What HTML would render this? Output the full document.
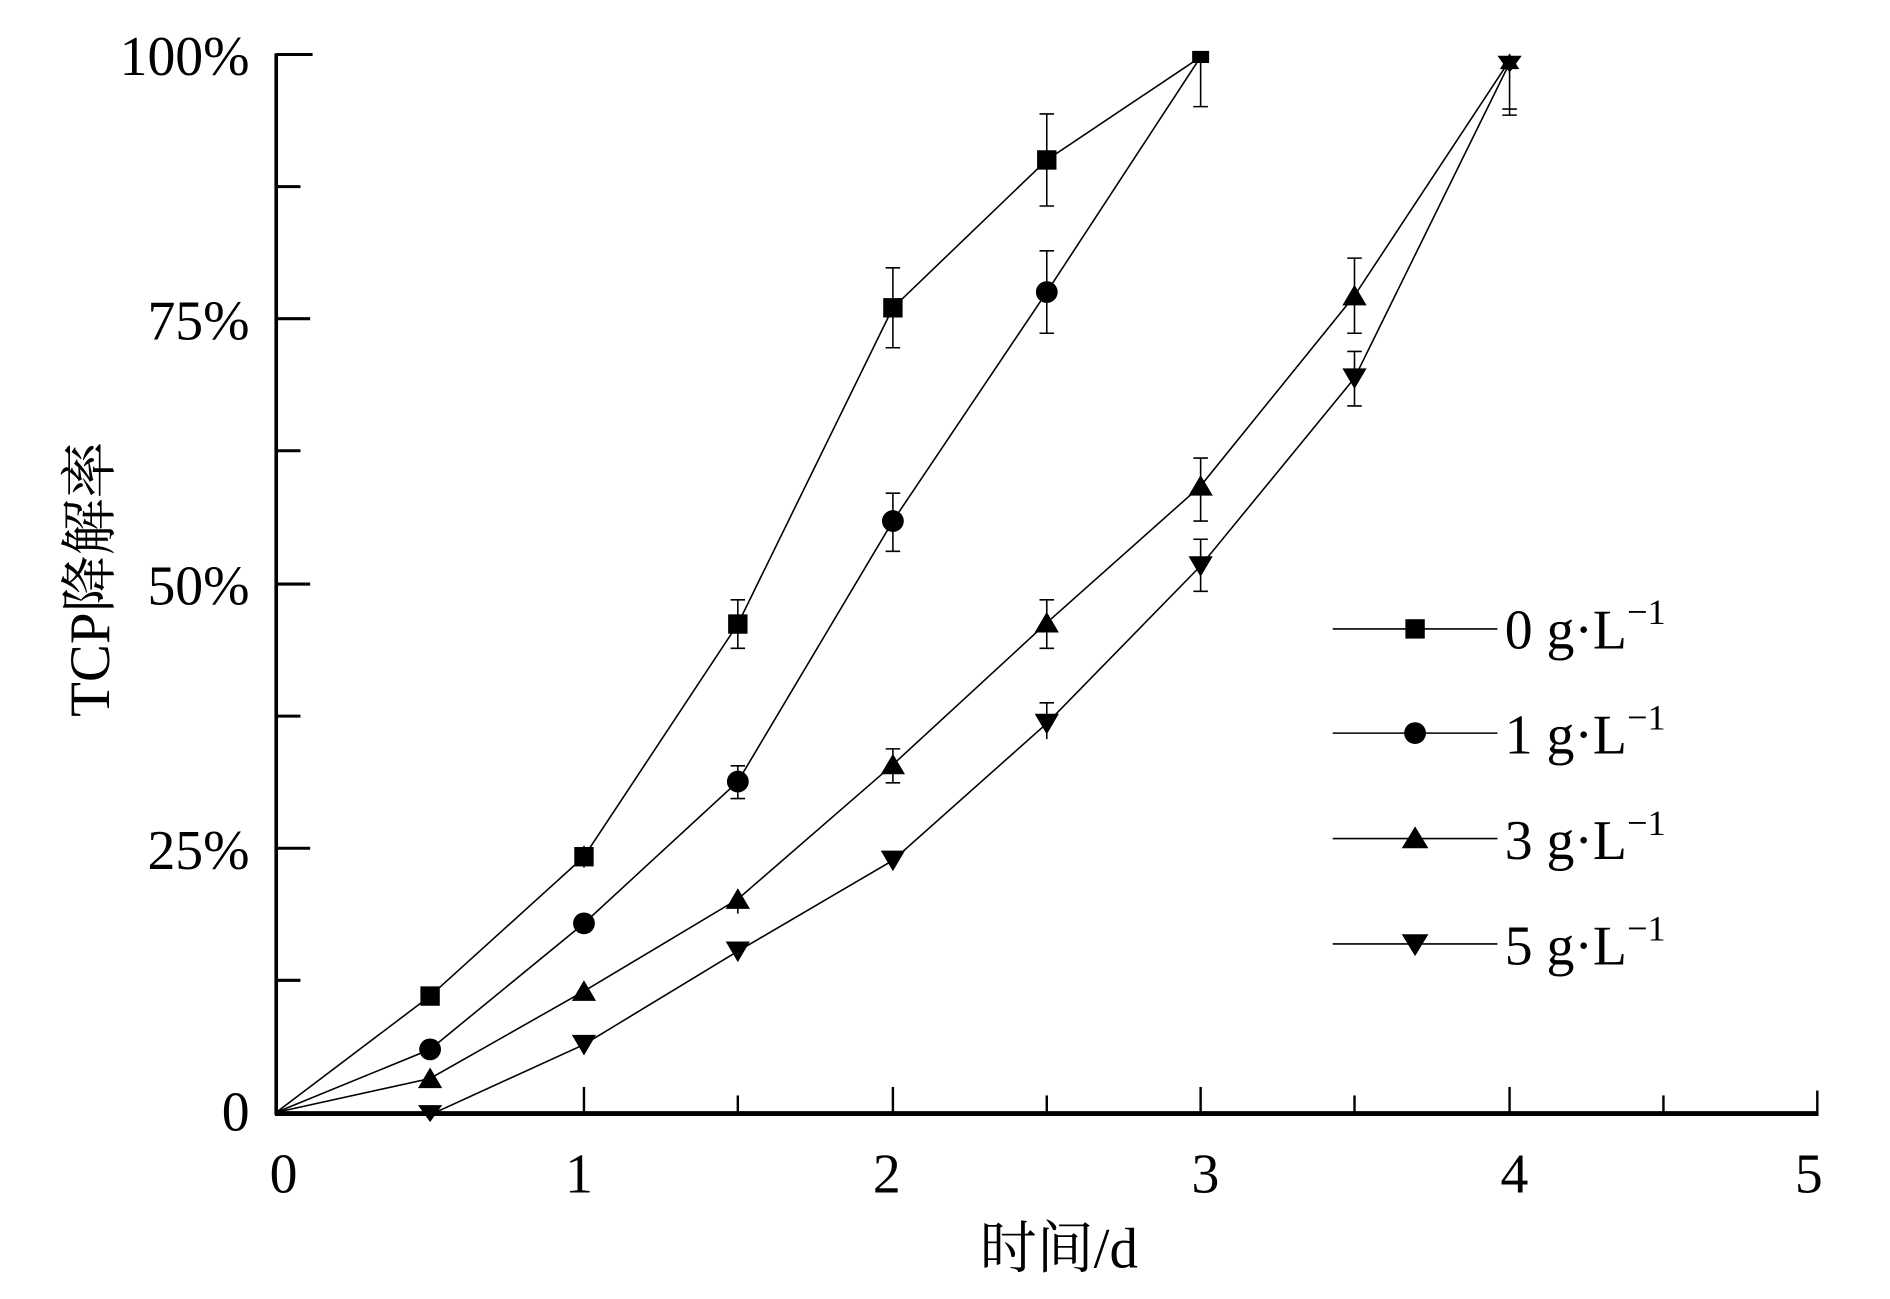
<!DOCTYPE html>
<html><head><meta charset="utf-8"><style>
html,body{margin:0;padding:0;background:#fff;}
svg{display:block;}
text{font-family:"Liberation Serif","Noto Serif CJK SC",serif;fill:#000;}
</style></head><body>
<svg width="1890" height="1299" viewBox="0 0 1560 1072" preserveAspectRatio="none" xmlns="http://www.w3.org/2000/svg">
<g stroke="#000" fill="none">
<line x1="228" y1="44" x2="228" y2="920" stroke-width="3"/>
<line x1="227" y1="919" x2="1501" y2="919" stroke-width="4"/>
<g stroke-width="2.5">
<line x1="228" y1="45" x2="258" y2="45"/><line x1="228" y1="154" x2="248" y2="154"/>
<line x1="228" y1="263" x2="256" y2="263"/><line x1="228" y1="372" x2="248" y2="372"/>
<line x1="228" y1="482" x2="256" y2="482"/><line x1="228" y1="591" x2="248" y2="591"/>
<line x1="228" y1="700" x2="256" y2="700"/><line x1="228" y1="809" x2="248" y2="809"/>
</g>
<g stroke-width="2">
<line x1="482" y1="919" x2="482" y2="897"/><line x1="609" y1="919" x2="609" y2="904"/>
<line x1="737" y1="919" x2="737" y2="897"/><line x1="864" y1="919" x2="864" y2="904"/>
<line x1="991" y1="919" x2="991" y2="897"/><line x1="1118" y1="919" x2="1118" y2="904"/>
<line x1="1246" y1="919" x2="1246" y2="897"/><line x1="1373" y1="919" x2="1373" y2="904"/>
<line x1="1500" y1="919" x2="1500" y2="900"/>
</g>
<g stroke-width="1.3">
<polyline points="228,918 355,822 482,707 609,515 737,254 864,132 991,47"/>
<polyline points="228,918 355,866 482,762 609,645 737,430 864,241 991,47"/>
<polyline points="228,918 355,890 482,818 609,742 737,631 864,514 991,401 1118,244 1246,50"/>
<polyline points="228,918 355,920 482,862 609,785 737,710 864,597 991,467 1118,312 1246,52"/>
<path d="M864,94V170M858,94H870M858,170H870 M737,221V287M731,221H743M731,287H743 M609,495V535M603,495H615M603,535H615 M482,698V716 M991,45V88M985,88H997
M864,207V275M858,207H870M858,275H870 M737,407V455M731,407H743M731,455H743 M609,632V659M603,632H615M603,659H615
M1118,213V275M1112,213H1124M1112,275H1124 M991,378V430M985,378H997M985,430H997 M864,495V535M858,495H870M858,535H870 M737,618V646M731,618H743M731,646H743 M609,734V754
M1118,290V335M1112,290H1124M1112,335H1124 M991,445V488M985,445H997M985,488H997 M864,580V610M858,580H870 M1246,45V95M1240,95H1252M1240,90H1252"/>
</g>
<g stroke-width="1.3">
<line x1="1100" y1="519" x2="1236" y2="519"/><line x1="1100" y1="605" x2="1236" y2="605"/>
<line x1="1100" y1="692" x2="1236" y2="692"/><line x1="1100" y1="779" x2="1236" y2="779"/>
</g>
</g>
<g fill="#000">
<rect x="347" y="814" width="16" height="16"/><rect x="474" y="699" width="16" height="16"/>
<rect x="601" y="507" width="16" height="16"/><rect x="729" y="246" width="16" height="16"/>
<rect x="856" y="124" width="16" height="16"/><rect x="984" y="42" width="14" height="10"/>
<rect x="1160" y="511" width="16" height="16"/>
<circle cx="355" cy="866" r="9"/><circle cx="482" cy="762" r="9"/><circle cx="609" cy="645" r="9"/>
<circle cx="737" cy="430" r="9"/><circle cx="864" cy="241" r="9"/><circle cx="1168" cy="605" r="9"/>
<path d="M355,881l10,17h-20z M482,809l10,17h-20z M609,733l10,17h-20z M737,622l10,17h-20z M864,505l10,17h-20z M991,392l10,17h-20z M1118,235l10,17h-20z M1246,44l8,13h-16z M1168,682l11,18h-22z"/>
<path d="M345,912h20l-10,14z M472,854h20l-10,17z M599,777h20l-10,17z M727,702h20l-10,17z M854,589h20l-10,17z M981,459h20l-10,17z M1108,304h20l-10,17z M1236,46h20l-10,14z M1157,771h22l-11,18z"/>
</g>
<g font-size="46" text-anchor="end">
<text x="206" y="62">100%</text><text x="206" y="280">75%</text>
<text x="206" y="499">50%</text><text x="206" y="717">25%</text><text x="206" y="933">0</text>
</g>
<g font-size="46" text-anchor="middle">
<text x="234" y="984">0</text><text x="478" y="984">1</text><text x="732" y="984">2</text>
<text x="995" y="984">3</text><text x="1250" y="984">4</text><text x="1493" y="984">5</text>
</g>
<text x="874" y="1046" font-size="47" text-anchor="middle">时间/d</text>
<text transform="translate(90,478) rotate(-90)" font-size="47" text-anchor="middle">TCP降解率</text>
<g font-size="46">
<text x="1242" y="535">0 g·L<tspan font-size="30" dy="-20">−1</tspan></text>
<text x="1242" y="622">1 g·L<tspan font-size="30" dy="-20">−1</tspan></text>
<text x="1242" y="709">3 g·L<tspan font-size="30" dy="-20">−1</tspan></text>
<text x="1242" y="796">5 g·L<tspan font-size="30" dy="-20">−1</tspan></text>
</g>
</svg>
</body></html>
